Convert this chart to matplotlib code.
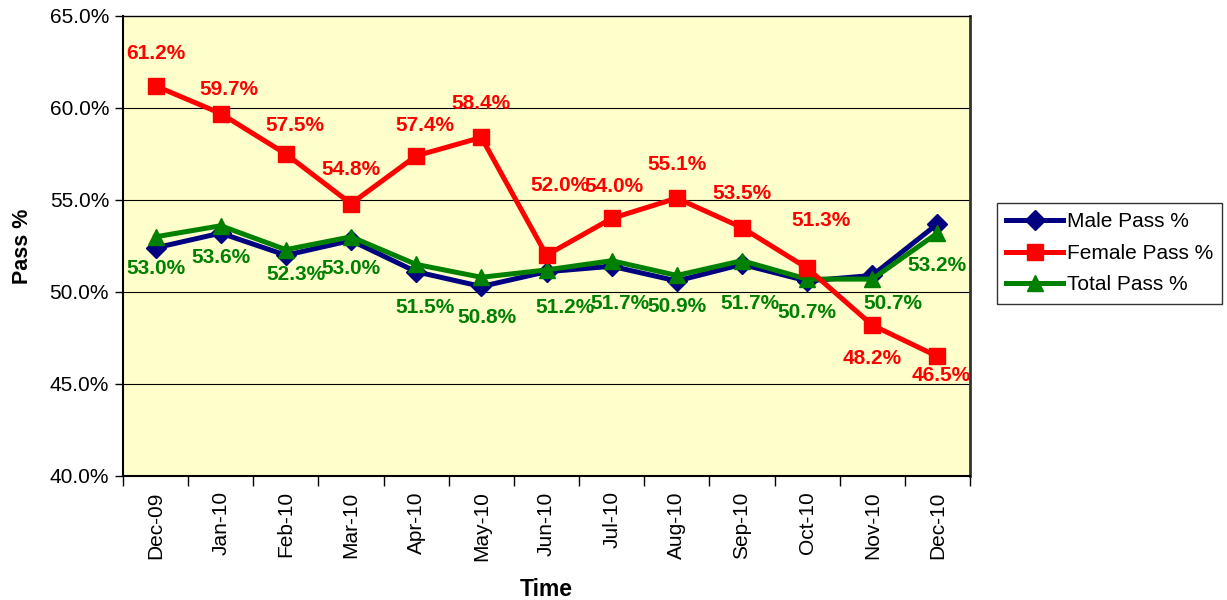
import matplotlib
matplotlib.use("Agg")
import matplotlib.pyplot as plt
import numpy as np

plt.rcParams["font.family"] = ["Liberation Sans", "DejaVu Sans"]

months = ["Dec-09", "Jan-10", "Feb-10", "Mar-10", "Apr-10", "May-10", "Jun-10",
          "Jul-10", "Aug-10", "Sep-10", "Oct-10", "Nov-10", "Dec-10"]
male_pass = [52.4, 53.2, 52.0, 52.8, 51.1, 50.3, 51.1, 51.4, 50.6, 51.5, 50.6, 50.9, 53.7]
female_pass = [61.2, 59.7, 57.5, 54.8, 57.4, 58.4, 52.0, 54.0, 55.1, 53.5, 51.3, 48.2, 46.5]
total_pass = [53.0, 53.6, 52.3, 53.0, 51.5, 50.8, 51.2, 51.7, 50.9, 51.7, 50.7, 50.7, 53.2]
y_ticks = [40, 45, 50, 55, 60, 65]

# label offsets in pixels (dx, dy) -- placement copied from the Excel chart
female_offsets = [(0, 32), (8, 24), (9, 28), (0, 34), (9, 30), (0, 34), (13, 70),
                  (2, 32), (0, 34), (0, 34), (14, 48), (0, -33), (4, -19)]
total_offsets = [(0, -32), (0, -32), (10, -25), (0, -32), (9, -43), (6, -40), (19, -38),
                 (8, -43), (0, -31), (8, -43), (0, -33), (21, -24), (0, -32)]

x = np.arange(len(months))

fig = plt.figure(figsize=(12.27, 6.0), dpi=100)
ax = fig.add_axes([123 / 1227, 1 - 476 / 600, (970 - 123) / 1227, (476 - 16) / 600])
ax.set_facecolor("#FFFFCC")

for yv in y_ticks[1:-1]:
    ax.axhline(yv, color="black", linewidth=0.8, zorder=1)

ax.plot(x, male_pass, color="#000080", linewidth=3.6, marker="D", markersize=10,
        zorder=3, label="Male Pass %")
ax.plot(x, female_pass, color="#FF0000", linewidth=3.6, marker="s", markersize=11,
        zorder=4, label="Female Pass %")
ax.plot(x, total_pass, color="#008000", linewidth=3.6, marker="^", markersize=11,
        zorder=3, label="Total Pass %")

for xi, v, (dx, dy) in zip(x, female_pass, female_offsets):
    ax.annotate(f"{v:.1f}%", (xi, v), xytext=(dx, dy), textcoords="offset pixels",
                ha="center", va="center", fontsize=15, fontweight="bold",
                color="#FF0000", zorder=6)
for xi, v, (dx, dy) in zip(x, total_pass, total_offsets):
    ax.annotate(f"{v:.1f}%", (xi, v), xytext=(dx, dy), textcoords="offset pixels",
                ha="center", va="center", fontsize=15, fontweight="bold",
                color="#008000", zorder=6)

ax.set_xlim(-0.5, len(months) - 0.5)
ax.set_ylim(40, 65)
ax.set_yticks(y_ticks)
ax.set_yticklabels([f"{v:.1f}%" for v in y_ticks], fontsize=15)
ax.set_xticks(x)
ax.set_xticklabels(months, rotation=90, fontsize=15)
ax.tick_params(axis="x", length=0, pad=11)
ax.set_xticks(np.arange(-0.5, len(months)), minor=True)
ax.tick_params(axis="x", which="minor", length=7, direction="out", width=1)
ax.tick_params(axis="y", length=6, direction="out", width=1, pad=4)

for side in ("left", "bottom"):
    ax.spines[side].set_linewidth(1.5)
ax.spines["top"].set_linewidth(1.0)
ax.spines["right"].set_linewidth(2.0)
ax.spines["right"].set_color("#333333")

ax.set_ylabel("Pass %", fontsize=15.5, fontweight="bold", labelpad=12)
ax.set_xlabel("Time", fontsize=16.5, fontweight="bold", labelpad=12)

leg = fig.legend(loc="upper left", bbox_to_anchor=(997 / 1227, 1 - 203 / 600),
                 fontsize=15, frameon=True, fancybox=False, edgecolor="black",
                 handlelength=2.7, borderpad=0.45, labelspacing=0.6,
                 handletextpad=0.2, borderaxespad=0)
leg.get_frame().set_linewidth(1.0)

fig.savefig("out.png", dpi=100, facecolor="white")
